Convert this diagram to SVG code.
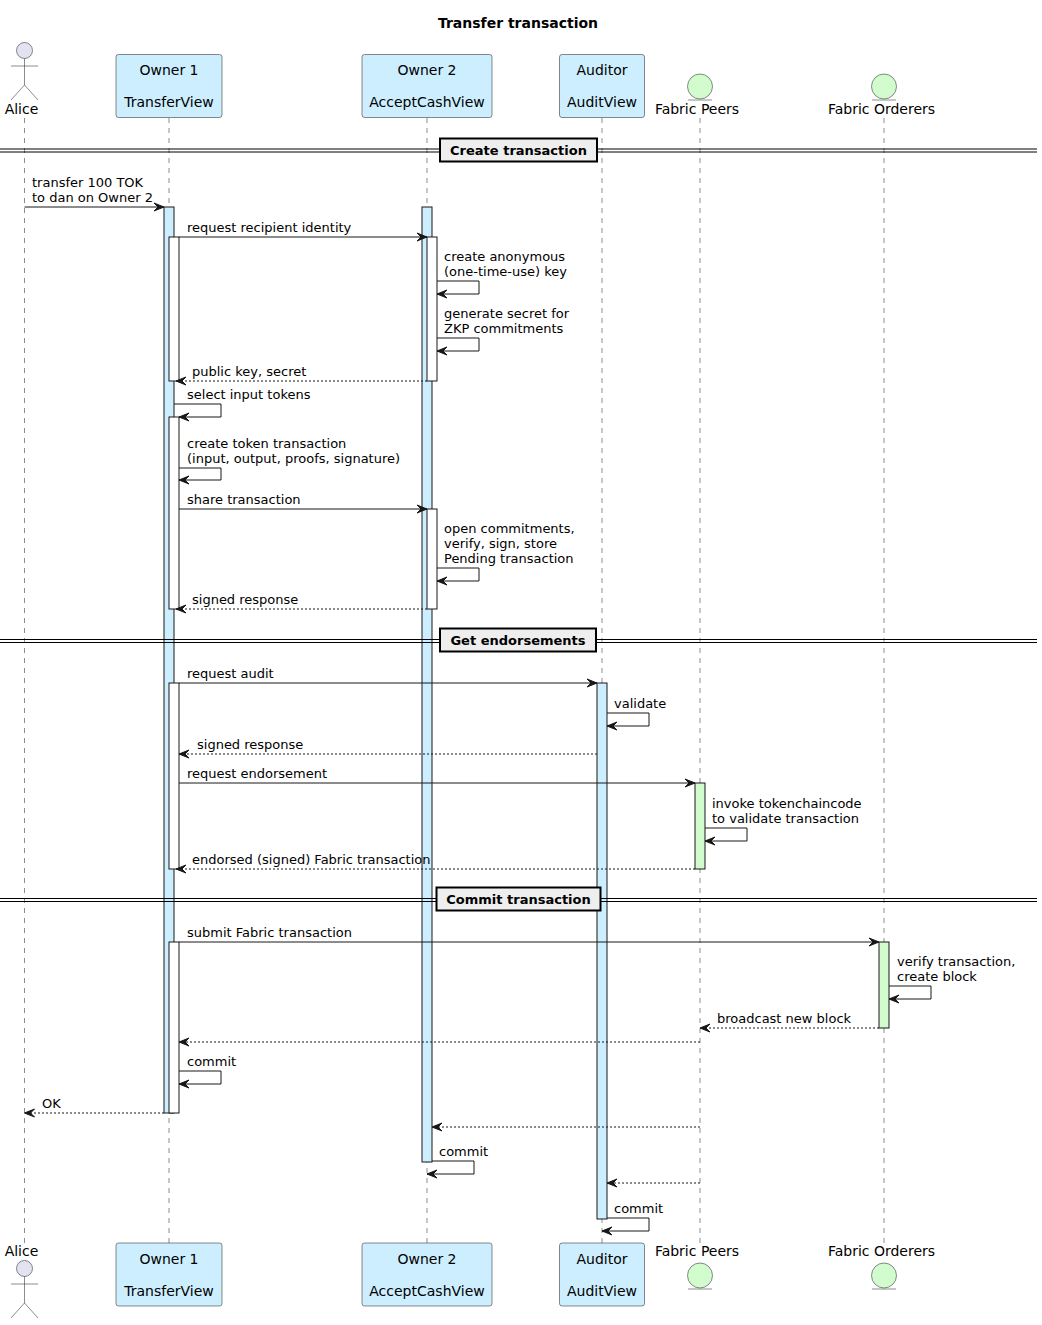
<svg xmlns="http://www.w3.org/2000/svg" width="1042" height="1325" viewBox="0 0 1042 1325">
<style>
text{font-family:"DejaVu Sans","Liberation Sans",sans-serif;font-size:13px;fill:#000}
.b{font-weight:bold}
.title{font-size:14px;font-weight:bold}
.mid{text-anchor:middle}
.pn{font-size:14px;text-anchor:middle}
.life{stroke:#181818;stroke-width:0.5;stroke-dasharray:5,5;fill:none}
.part{fill:#CCEEFF;stroke:#181818;stroke-width:0.5}
.act{fill:#CCEEFF;stroke:#181818;stroke-width:1}
.actw{fill:#FFFFFF;stroke:#181818;stroke-width:1}
.actg{fill:#D2FBCE;stroke:#181818;stroke-width:1}
.ent{fill:#D2FBCE;stroke:#181818;stroke-width:0.5}
.actor{fill:#E2E2F0;stroke:#181818;stroke-width:0.5}
.stick{stroke:#181818;stroke-width:0.5;fill:none}
.msg{stroke:#181818;stroke-width:1;fill:none;marker-end:url(#ah)}
.ret{stroke:#181818;stroke-width:1;fill:none;stroke-dasharray:2,2;marker-end:url(#ah)}
.divl{stroke:#000;stroke-width:1}
.divb{fill:#EEEEEE;stroke:#000;stroke-width:2}
</style>
<defs>
<marker id="ah" markerWidth="14" markerHeight="12" refX="12" refY="6" orient="auto" markerUnits="userSpaceOnUse">
<path d="M2,2 L12,6 L2,10 L6,6 Z" fill="#181818" stroke="#181818" stroke-width="1" stroke-linejoin="miter"/>
</marker>
</defs>
<rect width="1042" height="1325" fill="#FFFFFF"/>
<text class="title mid" x="518" y="28">Transfer transaction</text>

<g id="alice">
<line class="life" x1="24.5" y1="118" x2="24.5" y2="1243"/>
<circle class="actor" cx="24.5" cy="50.5" r="8"/>
<path class="stick" d="M24.5,58.5 V85 M11,66 H38 M11,100 L24.5,85 L38,100"/>
<text class="pn" x="21.5" y="114">Alice</text>
<text class="pn" x="21.5" y="1256">Alice</text>
<circle class="actor" cx="24.5" cy="1268.5" r="8"/>
<path class="stick" d="M24.5,1276.5 V1303 M11,1284 H38 M11,1318 L24.5,1303 L38,1318"/>
</g>

<g id="owner1">
<line class="life" x1="169" y1="118" x2="169" y2="1243"/>
<rect class="part" x="116" y="54.5" width="106" height="63" rx="2.5"/>
<text class="pn" x="169" y="75">Owner 1</text>
<text class="pn" x="169" y="107">TransferView</text>
<rect class="part" x="116" y="1243" width="106" height="63" rx="2.5"/>
<text class="pn" x="169" y="1264">Owner 1</text>
<text class="pn" x="169" y="1296">TransferView</text>
<rect class="act" x="164" y="207" width="10" height="906"/>
<rect class="actw" x="169" y="237" width="10" height="144"/>
<rect class="actw" x="169" y="417" width="10" height="192"/>
<rect class="actw" x="169" y="683" width="10" height="186"/>
<rect class="actw" x="169" y="942" width="10" height="171"/>
</g>

<g id="owner2">
<line class="life" x1="427" y1="118" x2="427" y2="1243"/>
<rect class="part" x="362" y="54.5" width="130" height="63" rx="2.5"/>
<text class="pn" x="427" y="75">Owner 2</text>
<text class="pn" x="427" y="107">AcceptCashView</text>
<rect class="part" x="362" y="1243" width="130" height="63" rx="2.5"/>
<text class="pn" x="427" y="1264">Owner 2</text>
<text class="pn" x="427" y="1296">AcceptCashView</text>
<rect class="act" x="422" y="207" width="10" height="955"/>
<rect class="actw" x="427" y="237" width="10" height="144"/>
<rect class="actw" x="427" y="509" width="10" height="100"/>
</g>

<g id="auditor">
<line class="life" x1="602" y1="118" x2="602" y2="1243"/>
<rect class="part" x="559.5" y="54.5" width="85" height="63" rx="2.5"/>
<text class="pn" x="602" y="75">Auditor</text>
<text class="pn" x="602" y="107">AuditView</text>
<rect class="part" x="559.5" y="1243" width="85" height="63" rx="2.5"/>
<text class="pn" x="602" y="1264">Auditor</text>
<text class="pn" x="602" y="1296">AuditView</text>
<rect class="act" x="597" y="683" width="10" height="536"/>
</g>

<g id="fabric-peers">
<line class="life" x1="700" y1="118" x2="700" y2="1243"/>
<circle class="ent" cx="700" cy="86.5" r="12.5"/>
<line class="stick" x1="688" y1="100" x2="712" y2="100"/>
<text class="pn" x="697" y="114">Fabric Peers</text>
<text class="pn" x="697" y="1256">Fabric Peers</text>
<circle class="ent" cx="700" cy="1275.5" r="12.5"/>
<line class="stick" x1="688" y1="1289" x2="712" y2="1289"/>
<rect class="actg" x="695" y="783" width="10" height="86"/>
</g>

<g id="fabric-orderers">
<line class="life" x1="884" y1="118" x2="884" y2="1243"/>
<circle class="ent" cx="884" cy="86.5" r="12.5"/>
<line class="stick" x1="872" y1="100" x2="896" y2="100"/>
<text class="pn" x="881.5" y="114">Fabric Orderers</text>
<text class="pn" x="881.5" y="1256">Fabric Orderers</text>
<circle class="ent" cx="884" cy="1275.5" r="12.5"/>
<line class="stick" x1="872" y1="1289" x2="896" y2="1289"/>
<rect class="actg" x="879" y="942" width="10" height="86"/>
</g>

<g id="dividers">
<line class="divl" x1="0" y1="149" x2="1037" y2="149"/>
<line class="divl" x1="0" y1="152" x2="1037" y2="152"/>
<rect class="divb" x="440" y="138.5" width="157" height="23"/>
<text class="b mid" x="518.5" y="155">Create transaction</text>
<line class="divl" x1="0" y1="639.5" x2="1037" y2="639.5"/>
<line class="divl" x1="0" y1="642.5" x2="1037" y2="642.5"/>
<rect class="divb" x="440" y="628.5" width="156" height="23"/>
<text class="b mid" x="518" y="645">Get endorsements</text>
<line class="divl" x1="0" y1="898.5" x2="1037" y2="898.5"/>
<line class="divl" x1="0" y1="901.5" x2="1037" y2="901.5"/>
<rect class="divb" x="436.5" y="887.5" width="164" height="23"/>
<text class="b mid" x="518.5" y="904">Commit transaction</text>
</g>

<g id="connectors">
<line class="msg" x1="24.5" y1="207" x2="164" y2="207"/>
<line class="msg" x1="179" y1="237" x2="427" y2="237"/>
<path class="msg" d="M437,281 H479 V294 H437"/>
<path class="msg" d="M437,338 H479 V351 H437"/>
<line class="ret" x1="427" y1="381" x2="176" y2="381"/>
<path class="msg" d="M174,404 H221 V417 H179"/>
<path class="msg" d="M179,468 H221 V480 H179"/>
<line class="msg" x1="179" y1="509" x2="427" y2="509"/>
<path class="msg" d="M437,568 H479 V581 H437"/>
<line class="ret" x1="427" y1="609" x2="176" y2="609"/>
<line class="msg" x1="179" y1="683" x2="597" y2="683"/>
<path class="msg" d="M607,713 H649 V726 H607"/>
<line class="ret" x1="597" y1="754" x2="179" y2="754"/>
<line class="msg" x1="179" y1="783" x2="695" y2="783"/>
<path class="msg" d="M705,828 H747 V841 H705"/>
<line class="ret" x1="695" y1="869" x2="176" y2="869"/>
<line class="msg" x1="179" y1="942" x2="879" y2="942"/>
<path class="msg" d="M889,986 H931 V999 H889"/>
<line class="ret" x1="879" y1="1028" x2="700" y2="1028"/>
<line class="ret" x1="700" y1="1042" x2="179" y2="1042"/>
<path class="msg" d="M179,1071 H221 V1084 H179"/>
<line class="ret" x1="164" y1="1113" x2="24.5" y2="1113"/>
<line class="ret" x1="700" y1="1127" x2="432" y2="1127"/>
<path class="msg" d="M432,1161 H474 V1174 H427"/>
<line class="ret" x1="700" y1="1183" x2="607" y2="1183"/>
<path class="msg" d="M607,1218 H649 V1231 H602"/>

<text x="32" y="187">transfer 100 TOK</text>
<text x="32" y="202">to dan on Owner 2</text>
<text x="187" y="232">request recipient identity</text>
<text x="444" y="261">create anonymous</text>
<text x="444" y="276">(one-time-use) key</text>
<text x="444" y="318">generate secret for</text>
<text x="444" y="333">ZKP commitments</text>
<text x="192" y="376">public key, secret</text>
<text x="187" y="399">select input tokens</text>
<text x="187" y="448">create token transaction</text>
<text x="187" y="463">(input, output, proofs, signature)</text>
<text x="187" y="504">share transaction</text>
<text x="444" y="533">open commitments,</text>
<text x="444" y="548">verify, sign, store</text>
<text x="444" y="563">Pending transaction</text>
<text x="192" y="604">signed response</text>
<text x="187" y="678">request audit</text>
<text x="614" y="708">validate</text>
<text x="197" y="749">signed response</text>
<text x="187" y="778">request endorsement</text>
<text x="712" y="808">invoke tokenchaincode</text>
<text x="712" y="823">to validate transaction</text>
<text x="192" y="864">endorsed (signed) Fabric transaction</text>
<text x="187" y="937">submit Fabric transaction</text>
<text x="897" y="966">verify transaction,</text>
<text x="897" y="981">create block</text>
<text x="717" y="1023">broadcast new block</text>
<text x="187" y="1066">commit</text>
<text x="42" y="1108">OK</text>
<text x="439" y="1156">commit</text>
<text x="614" y="1213">commit</text>
</g>
</svg>
